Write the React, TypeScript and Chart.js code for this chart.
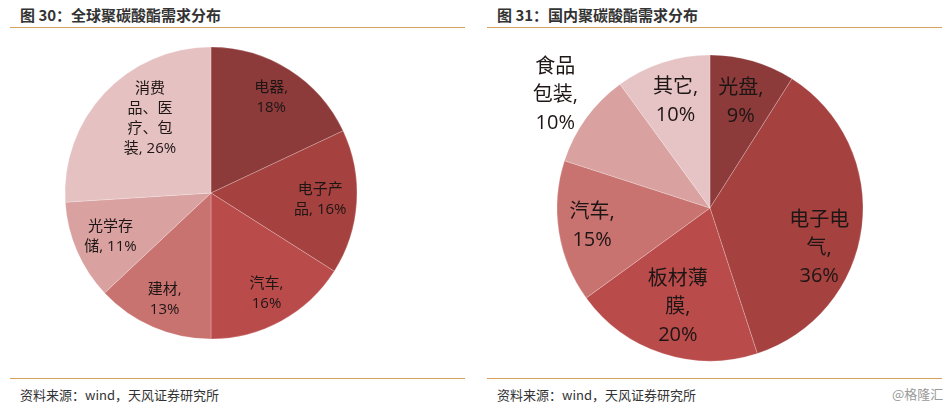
import React, { useEffect, useRef } from "react";
import { Chart, registerables } from "chart.js";

Chart.register(...registerables);

// ---------- data ----------
const globalCategories = ["电器", "电子产品", "汽车", "建材", "光学存储", "消费品、医疗、包装"];
const globalValues = [18, 16, 16, 13, 11, 26];
const globalLabelLines = [
  ["电器,", "18%"],
  ["电子产", "品, 16%"],
  ["汽车,", "16%"],
  ["建材,", "13%"],
  ["光学存", "储, 11%"],
  ["消费", "品、医", "疗、包", "装, 26%"],
];

const domesticCategories = ["光盘", "电子电气", "板材薄膜", "汽车", "食品包装", "其它"];
const domesticValues = [9, 36, 20, 15, 10, 10];
const domesticLabelLines = [
  ["光盘,", "9%"],
  ["电子电", "气,", "36%"],
  ["板材薄", "膜,", "20%"],
  ["汽车,", "15%"],
  ["食品", "包装,", "10%"],
  ["其它,", "10%"],
];

const leftTitle = "图 30：全球聚碳酸酯需求分布";
const rightTitle = "图 31：国内聚碳酸酯需求分布";
const sourceText = "资料来源：wind，天风证券研究所";
const watermark = "@格隆汇";

// ---------- styles ----------
const leftColors = ["#8C3A3A", "#A5423F", "#BA4B4B", "#C97371", "#D9A1A0", "#E6C1C2"];
const rightColors = ["#8C3A3A", "#A5423F", "#BA4B4B", "#C97371", "#D9A1A0", "#E6C4C6"];
const leftLabelRadius = [0.77, 0.75, 0.79, 0.8, 0.75, 0.66];
const leftLabelAngleFrac = [0.5, 0.5, 0.5, 0.5, 0.5, 0.58];
const rightLabelRadius = [0.72, 0.76, 0.68, 0.78, 1.25, 0.73];
const rightLabelAngleFrac = [0.5, 0.6, 0.5, 0.5, 0.5, 0.5];

const CJK = '"Noto Sans CJK SC", "Noto Sans", sans-serif';
const LABEL_FONT = '"Open Sans", "Noto Sans CJK SC", sans-serif';

const sliceLabelPlugin = {
  id: "sliceLabels",
  afterDatasetsDraw(chart: any) {
    const opts = chart.options.plugins.sliceLabels;
    if (!opts) return;
    const ctx = chart.ctx;
    const meta = chart.getDatasetMeta(0);
    ctx.save();
    ctx.font = `${opts.fontSize}px ${LABEL_FONT}`;
    ctx.fillStyle = opts.color;
    ctx.textAlign = "center";
    ctx.textBaseline = "middle";
    meta.data.forEach((arc: any, i: number) => {
      const p = arc.getProps(["x", "y", "startAngle", "endAngle", "outerRadius"], true);
      const f = opts.angleFrac[i];
      const a = p.startAngle + (p.endAngle - p.startAngle) * f;
      const r = p.outerRadius * opts.radius[i];
      const cx = p.x + Math.cos(a) * r;
      const cy = p.y + Math.sin(a) * r;
      const lines: string[] = opts.lines[i];
      const lh = opts.lineHeight;
      const y0 = cy - ((lines.length - 1) * lh) / 2;
      lines.forEach((t, k) => ctx.fillText(t, cx, y0 + k * lh));
    });
    ctx.restore();
  },
};

function PieChart(props: {
  labels: string[];
  values: number[];
  colors: string[];
  radius: number;
  lines: string[][];
  labelRadius: number[];
  angleFrac: number[];
  fontSize: number;
  lineHeight: number;
  width: number;
  height: number;
}) {
  const ref = useRef<HTMLCanvasElement>(null);
  useEffect(() => {
    if (!ref.current) return;
    const chart = new Chart(ref.current, {
      type: "pie",
      data: {
        labels: props.labels,
        datasets: [
          {
            data: props.values,
            backgroundColor: props.colors,
            borderColor: "rgba(255,255,255,0.22)",
            borderWidth: 1,
            radius: props.radius,
          } as any,
        ],
      },
      options: {
        animation: false,
        responsive: false,
        maintainAspectRatio: false,
        layout: { padding: 0 },
        plugins: {
          legend: { display: false },
          tooltip: { enabled: false },
          sliceLabels: {
            lines: props.lines,
            radius: props.labelRadius,
            angleFrac: props.angleFrac,
            fontSize: props.fontSize,
            lineHeight: props.lineHeight,
            color: "#1e1515",
          },
        } as any,
      },
      plugins: [sliceLabelPlugin],
    });
    return () => chart.destroy();
  }, []);
  return <canvas ref={ref} width={props.width} height={props.height} style={{ width: props.width, height: props.height }} />;
}

const lineColor = "#D6A25E";

export default function App() {
  const abs = (x: number, y: number): React.CSSProperties => ({ position: "absolute", left: x, top: y });
  return (
    <div
      style={{
        position: "fixed",
        left: 0,
        top: 0,
        width: 951,
        height: 405,
        background: "#fff",
        overflow: "hidden",
        fontFamily: CJK,
      }}
    >
      {/* titles */}
      <div style={{ ...abs(20, 4), fontSize: 15, fontWeight: 700, color: "#333", lineHeight: "22px", whiteSpace: "nowrap" }}>
        {leftTitle}
      </div>
      <div style={{ ...abs(497, 4), fontSize: 15, fontWeight: 700, color: "#333", lineHeight: "22px", whiteSpace: "nowrap" }}>
        {rightTitle}
      </div>
      <div style={{ ...abs(10, 27), width: 455, height: 1, background: lineColor }} />
      <div style={{ ...abs(487, 27), width: 455, height: 1, background: lineColor }} />

      {/* charts */}
      <div style={abs(11, 23)}>
        <PieChart
          labels={globalCategories}
          values={globalValues}
          colors={leftColors}
          radius={146}
          lines={globalLabelLines}
          labelRadius={leftLabelRadius}
          angleFrac={leftLabelAngleFrac}
          fontSize={15}
          lineHeight={20}
          width={400}
          height={340}
        />
      </div>
      <div style={abs(510, 38)}>
        <PieChart
          labels={domesticCategories}
          values={domesticValues}
          colors={rightColors}
          radius={153}
          lines={domesticLabelLines}
          labelRadius={rightLabelRadius}
          angleFrac={rightLabelAngleFrac}
          fontSize={20}
          lineHeight={28}
          width={400}
          height={340}
        />
      </div>

      {/* footers */}
      <div style={{ ...abs(10, 378), width: 455, height: 1, background: lineColor }} />
      <div style={{ ...abs(487, 378), width: 455, height: 1, background: lineColor }} />
      <div style={{ ...abs(20, 385), fontSize: 13, color: "#333", lineHeight: "20px", whiteSpace: "nowrap" }}>{sourceText}</div>
      <div style={{ ...abs(497, 385), fontSize: 13, color: "#333", lineHeight: "20px", whiteSpace: "nowrap" }}>{sourceText}</div>
      <div style={{ ...abs(892, 384), fontSize: 13, color: "#9a9a9a", lineHeight: "20px", whiteSpace: "nowrap" }}>{watermark}</div>
    </div>
  );
}
